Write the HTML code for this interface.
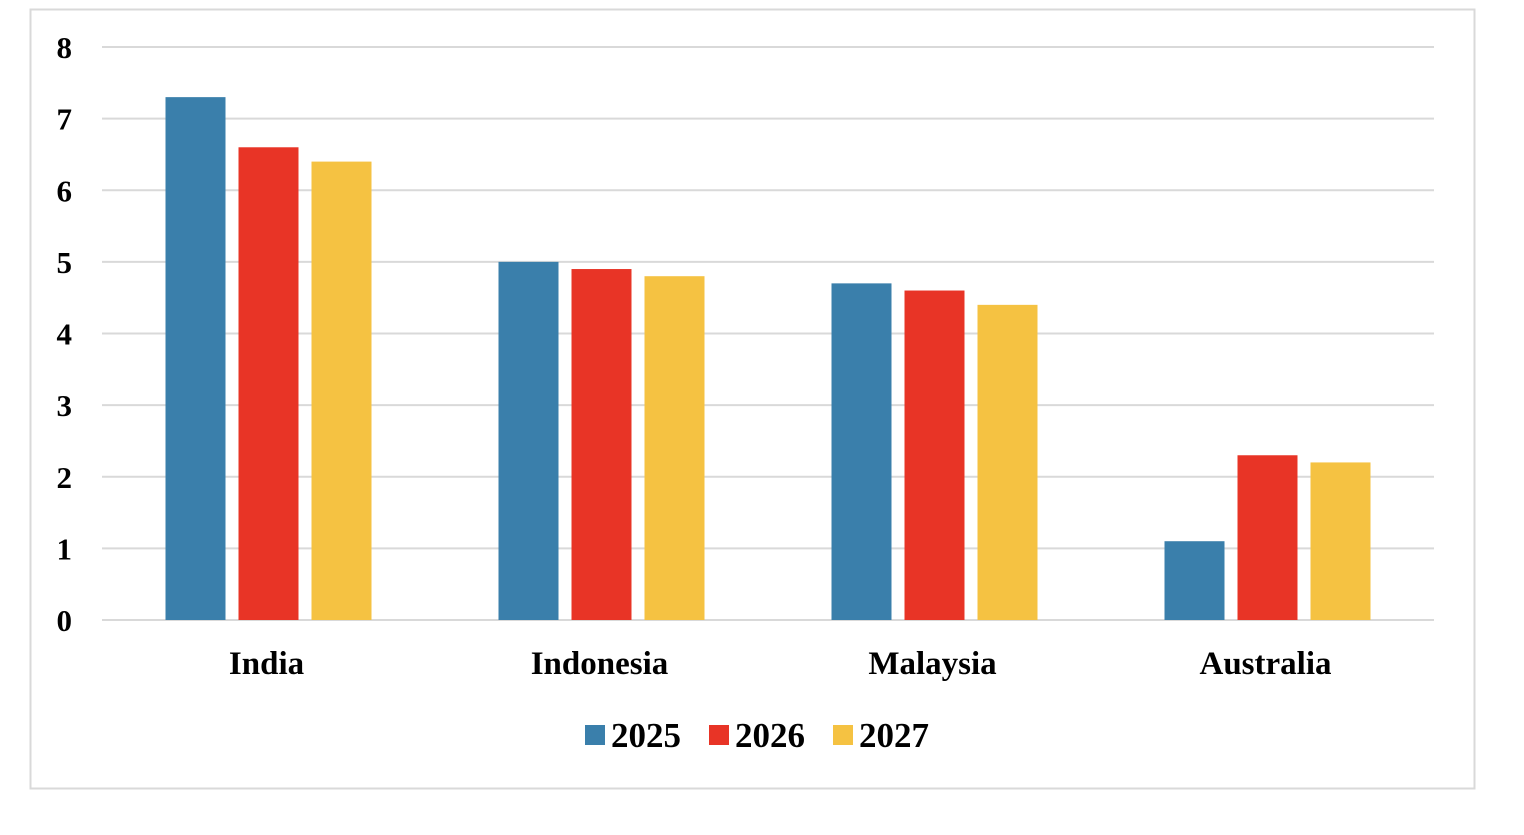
<!DOCTYPE html>
<html><head><meta charset="utf-8"><style>
body{margin:0;background:#fff;width:1524px;height:830px;overflow:hidden}
svg text{font-family:"Liberation Serif",serif;font-weight:bold;fill:#000}
</style></head><body>
<svg id="chart" width="1524" height="830">
<rect x="30.5" y="9.5" width="1444" height="779" fill="#fff" stroke="#d9d9d9" stroke-width="2"/>
<g id="grid"></g><g id="bars"></g><g id="labels"></g><g id="legend"></g>
</svg>
<script>
const categories=["India","Indonesia","Malaysia","Australia"];
const seriesNames=["2025","2026","2027"];
const v2025=[7.3,5.0,4.7,1.1];
const v2026=[6.6,4.9,4.6,2.3];
const v2027=[6.4,4.8,4.4,2.2];
const yTicks=[0,1,2,3,4,5,6,7,8];
const colors=["#3A7FAB","#E83426","#F5C242"];
const series=[v2025,v2026,v2027];
const NS="http://www.w3.org/2000/svg";
const x0=102,x1=1434,yBase=620,yTop=47,yMax=8;
const y=v=>yBase-(yBase-yTop)*v/yMax;
const catW=(x1-x0)/categories.length;
function mk(tag,attrs,parent){const e=document.createElementNS(NS,tag);for(const k in attrs)e.setAttribute(k,attrs[k]);parent.appendChild(e);return e;}
const grid=document.getElementById('grid'),bars=document.getElementById('bars'),labels=document.getElementById('labels'),legend=document.getElementById('legend');
yTicks.forEach(t=>{
 const l=mk('line',{x1:x0,x2:x1,y1:y(t),y2:y(t),stroke:'#d9d9d9','stroke-width':2},grid);
 
 
 const tx=mk('text',{x:72,y:y(t)+11,'text-anchor':'end','font-size':31},labels);
 tx.textContent=t;
 
 
});
const bw=60,step=73;
categories.forEach((c,i)=>{
 const cx=x0+catW*(i+0.5);
 series.forEach((s,j)=>{
  const bx=cx+(j-1)*step-bw/2;
  const r=mk('rect',{x:bx,y:y(s[i]),width:bw,height:yBase-y(s[i]),fill:colors[j]},bars);
  
  
 });
 const t=mk('text',{x:cx-2,y:674,'text-anchor':'middle','font-size':33},labels);
 t.textContent=c;
 
 
});
const lx=[585,709,833];
seriesNames.forEach((n,j)=>{
 const g=mk('g',{},legend);
 
 
 mk('rect',{x:lx[j],y:725,width:20,height:20,fill:colors[j]},g);
 const t=mk('text',{x:lx[j]+26,y:747,'font-size':35},g);
 t.textContent=n;
});
</script>
</body></html>
